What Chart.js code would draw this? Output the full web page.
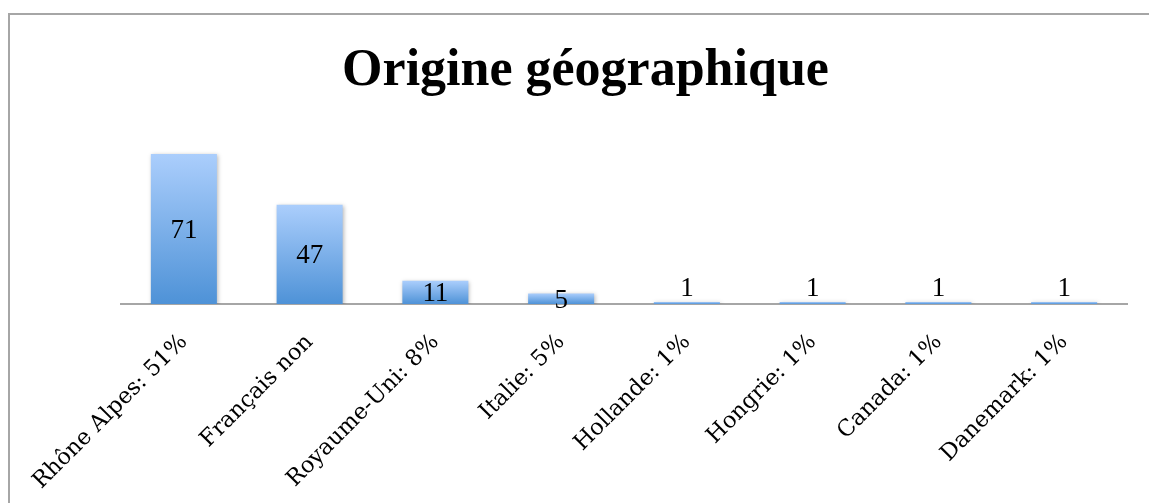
<!DOCTYPE html>
<html>
<head>
<meta charset="utf-8">
<script src="https://cdn.jsdelivr.net/npm/chart.js"></script>
<style>
  html, body { margin: 0; padding: 0; background: #fff; overflow: hidden; }
  #wrap { position: relative; width: 1149px; height: 503px; }
  #frame { position: absolute; left: 8px; top: 13px; width: 1200px; height: 600px; border: 2px solid #a6a6a6; box-sizing: border-box; }
  canvas { position: absolute; left: 0; top: 0; }
</style>
</head>
<body>
<div id="wrap">
  <div id="frame"></div>
  <canvas id="c" width="1149" height="503"></canvas>
</div>
<script>
const categories = ["Rhône Alpes: 51%", "Français non", "Royaume-Uni: 8%", "Italie: 5%", "Hollande: 1%", "Hongrie: 1%", "Canada: 1%", "Danemark: 1%"];
const values = [71, 47, 11, 5, 1, 1, 1, 1];
const titleText = "Origine géographique";
const yMax = 80;

const SERIF = "'Liberation Serif', 'DejaVu Serif', serif";
const LABEL_FONT = "'DejaVu Serif', 'Liberation Serif', serif";

const shadowAndLabels = {
  id: 'shadowAndLabels',
  beforeDatasetsDraw(chart) {
    const ctx = chart.ctx;
    ctx.save();
    ctx.shadowColor = 'rgba(0,0,0,0.28)';
    ctx.shadowBlur = 4;
    ctx.shadowOffsetX = 1;
    ctx.shadowOffsetY = 1;
  },
  afterDatasetsDraw(chart) {
    const ctx = chart.ctx;
    ctx.restore();
    const meta = chart.getDatasetMeta(0);
    ctx.save();
    ctx.font = "27px " + SERIF;
    ctx.fillStyle = '#000';
    ctx.textAlign = 'center';
    ctx.textBaseline = 'middle';
    meta.data.forEach((bar, i) => {
      const h = bar.base - bar.y;
      let y = (bar.y + bar.base) / 2 + 2;
      if (h < 6) y = bar.y - 13;
      ctx.fillText(String(values[i]), bar.x, y);
    });
    ctx.restore();
  }
};

new Chart(document.getElementById('c'), {
  type: 'bar',
  data: {
    labels: categories,
    datasets: [{
      data: values,
      barPercentage: 0.525,
      categoryPercentage: 1.0,
      backgroundColor(ctx) {
        const chart = ctx.chart;
        if (!chart.chartArea || !chart.scales.y) return '#7fb0ea';
        const ys = chart.scales.y;
        const top = ys.getPixelForValue(ctx.raw);
        const bot = ys.getPixelForValue(0);
        if (!(bot - top > 0)) return '#9cc3f5';
        const g = chart.ctx.createLinearGradient(0, top, 0, bot);
        g.addColorStop(0, '#abcefc');
        g.addColorStop(1, '#4e92d7');
        return g;
      },
      borderWidth: 0
    }]
  },
  options: {
    responsive: false,
    animation: false,
    devicePixelRatio: 1,
    layout: { padding: { left: 44, right: 22, top: 0, bottom: 0 } },
    plugins: {
      legend: { display: false },
      tooltip: { enabled: false },
      title: {
        display: true,
        text: titleText,
        color: '#000',
        font: { family: SERIF, size: 52, weight: 'bold', lineHeight: 1.2 },
        padding: { top: 40, bottom: 32.6 }
      }
    },
    scales: {
      x: {
        grid: { display: false, drawTicks: false },
        border: { display: true, color: '#a6a6a6', width: 2 },
        ticks: {
          color: '#000',
          font: { family: LABEL_FONT, size: 22.5 },
          maxRotation: 45,
          minRotation: 45,
          padding: 25,
          autoSkip: false
        },
        afterFit(scale) { scale.height = 199; }
      },
      y: {
        display: true,
        min: 0,
        max: yMax,
        grid: { display: false, drawTicks: false },
        border: { display: false },
        ticks: { display: false },
        afterFit(scale) { scale.width = 77; }
      }
    }
  },
  plugins: [shadowAndLabels]
});
</script>
</body>
</html>
